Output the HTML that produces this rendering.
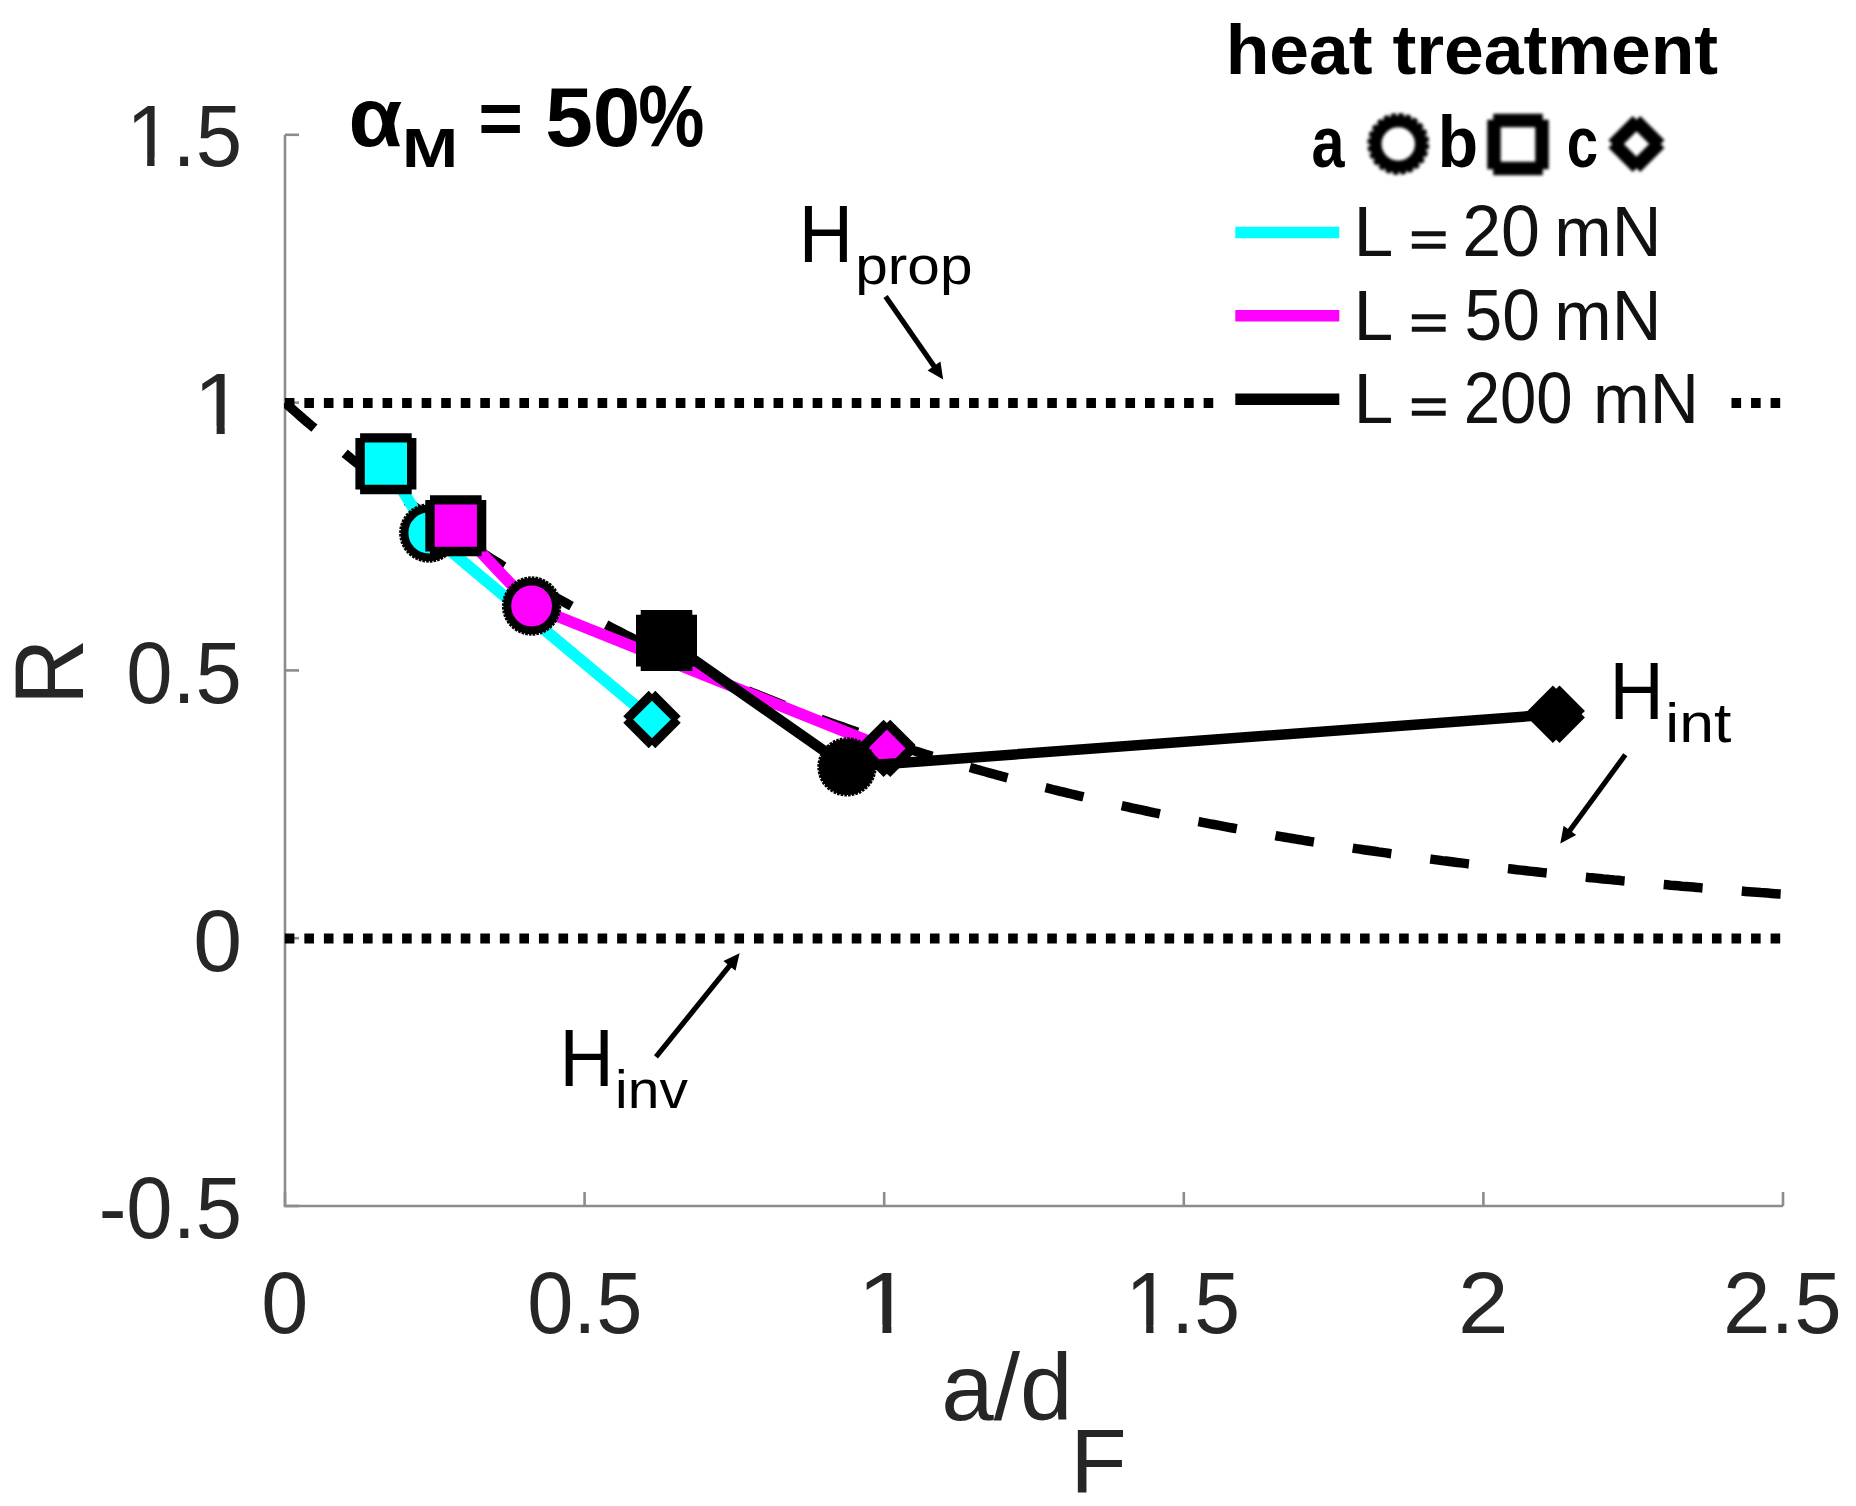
<!DOCTYPE html>
<html><head><meta charset="utf-8"><title>R vs a/dF</title>
<style>html,body{margin:0;padding:0;background:#fff;}svg{display:block;}text{font-family:"Liberation Sans",sans-serif;}</style>
</head><body>
<svg width="1856" height="1506" viewBox="0 0 1856 1506">
<defs><filter id="blur" x="-20%" y="-20%" width="140%" height="140%"><feGaussianBlur stdDeviation="1.6"/></filter>
<clipPath id="plot"><rect x="284.0" y="134.8" width="1499.0" height="1071.2"/></clipPath></defs>
<rect width="1856" height="1506" fill="#fff"/>
<g stroke="#8c8c8c" stroke-width="2.6" fill="none">
<path d="M285.0 134.8 V1206.0 H1783.0"/>
<path d="M285.0 134.8 h14"/>
<path d="M285.0 402.6 h14"/>
<path d="M285.0 670.4 h14"/>
<path d="M285.0 938.2 h14"/>
<path d="M285.0 1206.0 h14"/>
<path d="M285.0 1206.0 v-14"/>
<path d="M584.6 1206.0 v-14"/>
<path d="M884.2 1206.0 v-14"/>
<path d="M1183.8 1206.0 v-14"/>
<path d="M1483.4 1206.0 v-14"/>
<path d="M1783.0 1206.0 v-14"/>
</g>
<text transform="matrix(0.8348 0 0 0.8625 126.17 165.64)" font-size="100" fill="#262626">1.5</text>
<path transform="matrix(0.8348 0 0 0.8625 126.17 165.64)" d="M6.6 -8.9 H25.15 V1 H6.6 Z M33.98 -8.9 H51.8 V1 H33.98 Z" fill="#fff"/>
<text transform="matrix(0.9157 0 0 0.8677 193.59 434.20)" font-size="100" fill="#262626">1</text>
<path transform="matrix(0.9157 0 0 0.8677 193.59 434.20)" d="M6.6 -8.9 H25.15 V1 H6.6 Z M33.98 -8.9 H51.8 V1 H33.98 Z" fill="#fff"/>
<text transform="matrix(0.8327 0 0 0.8715 126.15 702.53)" font-size="100" fill="#262626">0.5</text>
<text transform="matrix(0.8787 0 0 0.8715 193.17 971.13)" font-size="100" fill="#262626">0</text>
<text transform="matrix(0.8326 0 0 0.8715 98.64 1238.43)" font-size="100" fill="#262626">-0.5</text>
<text transform="matrix(0.8452 0 0 0.8729 261.20 1332.83)" font-size="100" fill="#262626">0</text>
<text transform="matrix(0.8296 0 0 0.8729 527.16 1332.83)" font-size="100" fill="#262626">0.5</text>
<text transform="matrix(1.0089 0 0 0.8750 857.09 1332.80)" font-size="100" fill="#262626">1</text>
<path transform="matrix(1.0089 0 0 0.8750 857.09 1332.80)" d="M6.6 -8.9 H25.15 V1 H6.6 Z M33.98 -8.9 H51.8 V1 H33.98 Z" fill="#fff"/>
<text transform="matrix(0.8236 0 0 0.8754 1125.48 1332.82)" font-size="100" fill="#262626">1.5</text>
<path transform="matrix(0.8236 0 0 0.8754 1125.48 1332.82)" d="M6.6 -8.9 H25.15 V1 H6.6 Z M33.98 -8.9 H51.8 V1 H33.98 Z" fill="#fff"/>
<text transform="matrix(0.9101 0 0 0.8725 1457.95 1332.80)" font-size="100" fill="#262626">2</text>
<text transform="matrix(0.8529 0 0 0.8729 1723.04 1332.83)" font-size="100" fill="#262626">2.5</text>
<text transform="matrix(0 -0.9157 0.9913 0 83.00 704.91)" font-size="100" fill="#262626">R</text>
<text transform="matrix(0.9439 0 0 0.9456 941.34 1420.25)" font-size="100" fill="#262626">a/d</text>
<text transform="matrix(0.9243 0 0 0.9157 1070.22 1491.50)" font-size="100" fill="#262626">F</text>
<g stroke="#000" stroke-width="10" stroke-dasharray="9.6 9.95" fill="none">
<path d="M284.8 403.0 H1783.0"/>
<path d="M284.8 938.6 H1783.0"/>
</g>
<path d="M285.0 402.6 L288.7 405.9 L292.5 409.3 L296.2 412.5 L300.0 415.8 L303.7 419.1 L307.5 422.3 L311.2 425.5 L315.0 428.7 L318.7 431.9 L322.4 435.1 L326.2 438.2 L329.9 441.3 L333.7 444.4 L337.4 447.5 L341.2 450.5 L344.9 453.6 L348.7 456.6 L352.4 459.6 L356.2 462.6 L359.9 465.5 L363.6 468.5 L367.4 471.4 L371.1 474.3 L374.9 477.2 L378.6 480.1 L382.4 482.9 L386.1 485.8 L389.9 488.6 L393.6 491.4 L397.4 494.2 L401.1 496.9 L404.8 499.7 L408.6 502.4 L412.3 505.1 L416.1 507.8 L419.8 510.5 L423.6 513.2 L427.3 515.8 L431.1 518.5 L434.8 521.1 L438.5 523.7 L442.3 526.3 L446.0 528.8 L449.8 531.4 L453.5 533.9 L457.3 536.4 L461.0 538.9 L464.8 541.4 L468.5 543.9 L472.2 546.3 L476.0 548.8 L479.7 551.2 L483.5 553.6 L487.2 556.0 L491.0 558.4 L494.7 560.8 L498.5 563.1 L502.2 565.5 L506.0 567.8 L509.7 570.1 L513.4 572.4 L517.2 574.7 L520.9 576.9 L524.7 579.2 L528.4 581.4 L532.2 583.6 L535.9 585.8 L539.7 588.0 L543.4 590.2 L547.1 592.4 L550.9 594.5 L554.6 596.7 L558.4 598.8 L562.1 600.9 L565.9 603.0 L569.6 605.1 L573.4 607.2 L577.1 609.3 L580.9 611.3 L584.6 613.3 L588.3 615.4 L592.1 617.4 L595.8 619.4 L599.6 621.4 L603.3 623.3 L607.1 625.3 L610.8 627.2 L614.6 629.2 L618.3 631.1 L622.0 633.0 L625.8 634.9 L629.5 636.8 L633.3 638.7 L637.0 640.6 L640.8 642.4 L644.5 644.3 L648.3 646.1 L652.0 647.9 L655.8 649.7 L659.5 651.5 L663.2 653.3 L667.0 655.1 L670.7 656.8 L674.5 658.6 L678.2 660.3 L682.0 662.1 L685.7 663.8 L689.5 665.5 L693.2 667.2 L697.0 668.9 L700.7 670.6 L704.4 672.2 L708.2 673.9 L711.9 675.5 L715.7 677.2 L719.4 678.8 L723.2 680.4 L726.9 682.0 L730.7 683.6 L734.4 685.2 L738.1 686.8 L741.9 688.3 L745.6 689.9 L749.4 691.4 L753.1 693.0 L756.9 694.5 L760.6 696.0 L764.4 697.5 L768.1 699.0 L771.9 700.5 L775.6 702.0 L779.3 703.5 L783.1 704.9 L786.8 706.4 L790.6 707.8 L794.3 709.3 L798.1 710.7 L801.8 712.1 L805.6 713.5 L809.3 714.9 L813.0 716.3 L816.8 717.7 L820.5 719.1 L824.3 720.4 L828.0 721.8 L831.8 723.1 L835.5 724.5 L839.3 725.8 L843.0 727.1 L846.8 728.5 L850.5 729.8 L854.2 731.1 L858.0 732.4 L861.7 733.6 L865.5 734.9 L869.2 736.2 L873.0 737.4 L876.7 738.7 L880.5 739.9 L884.2 741.2 L887.9 742.4 L891.7 743.6 L895.4 744.8 L899.2 746.0 L902.9 747.2 L906.7 748.4 L910.4 749.6 L914.2 750.8 L917.9 751.9 L921.6 753.1 L925.4 754.3 L929.1 755.4 L932.9 756.5 L936.6 757.7 L940.4 758.8 L944.1 759.9 L947.9 761.0 L951.6 762.1 L955.4 763.2 L959.1 764.3 L962.8 765.4 L966.6 766.5 L970.3 767.5 L974.1 768.6 L977.8 769.7 L981.6 770.7 L985.3 771.8 L989.1 772.8 L992.8 773.8 L996.5 774.9 L1000.3 775.9 L1004.0 776.9 L1007.8 777.9 L1011.5 778.9 L1015.3 779.9 L1019.0 780.9 L1022.8 781.8 L1026.5 782.8 L1030.3 783.8 L1034.0 784.7 L1037.7 785.7 L1041.5 786.7 L1045.2 787.6 L1049.0 788.5 L1052.7 789.5 L1056.5 790.4 L1060.2 791.3 L1064.0 792.2 L1067.7 793.1 L1071.5 794.0 L1075.2 794.9 L1078.9 795.8 L1082.7 796.7 L1086.4 797.6 L1090.2 798.5 L1093.9 799.4 L1097.7 800.2 L1101.4 801.1 L1105.2 801.9 L1108.9 802.8 L1112.6 803.6 L1116.4 804.5 L1120.1 805.3 L1123.9 806.1 L1127.6 806.9 L1131.4 807.8 L1135.1 808.6 L1138.9 809.4 L1142.6 810.2 L1146.3 811.0 L1150.1 811.8 L1153.8 812.6 L1157.6 813.3 L1161.3 814.1 L1165.1 814.9 L1168.8 815.7 L1172.6 816.4 L1176.3 817.2 L1180.1 817.9 L1183.8 818.7 L1187.5 819.4 L1191.3 820.2 L1195.0 820.9 L1198.8 821.6 L1202.5 822.4 L1206.3 823.1 L1210.0 823.8 L1213.8 824.5 L1217.5 825.2 L1221.2 825.9 L1225.0 826.6 L1228.7 827.3 L1232.5 828.0 L1236.2 828.7 L1240.0 829.4 L1243.7 830.1 L1247.5 830.7 L1251.2 831.4 L1255.0 832.1 L1258.7 832.7 L1262.4 833.4 L1266.2 834.0 L1269.9 834.7 L1273.7 835.3 L1277.4 836.0 L1281.2 836.6 L1284.9 837.2 L1288.7 837.9 L1292.4 838.5 L1296.2 839.1 L1299.9 839.7 L1303.6 840.4 L1307.4 841.0 L1311.1 841.6 L1314.9 842.2 L1318.6 842.8 L1322.4 843.4 L1326.1 844.0 L1329.9 844.5 L1333.6 845.1 L1337.3 845.7 L1341.1 846.3 L1344.8 846.9 L1348.6 847.4 L1352.3 848.0 L1356.1 848.6 L1359.8 849.1 L1363.6 849.7 L1367.3 850.2 L1371.0 850.8 L1374.8 851.3 L1378.5 851.9 L1382.3 852.4 L1386.0 852.9 L1389.8 853.5 L1393.5 854.0 L1397.3 854.5 L1401.0 855.0 L1404.8 855.5 L1408.5 856.1 L1412.2 856.6 L1416.0 857.1 L1419.7 857.6 L1423.5 858.1 L1427.2 858.6 L1431.0 859.1 L1434.7 859.6 L1438.5 860.1 L1442.2 860.6 L1446.0 861.0 L1449.7 861.5 L1453.4 862.0 L1457.2 862.5 L1460.9 862.9 L1464.7 863.4 L1468.4 863.9 L1472.2 864.3 L1475.9 864.8 L1479.7 865.3 L1483.4 865.7 L1487.1 866.2 L1490.9 866.6 L1494.6 867.1 L1498.4 867.5 L1502.1 867.9 L1505.9 868.4 L1509.6 868.8 L1513.4 869.2 L1517.1 869.7 L1520.8 870.1 L1524.6 870.5 L1528.3 871.0 L1532.1 871.4 L1535.8 871.8 L1539.6 872.2 L1543.3 872.6 L1547.1 873.0 L1550.8 873.4 L1554.6 873.8 L1558.3 874.2 L1562.0 874.6 L1565.8 875.0 L1569.5 875.4 L1573.3 875.8 L1577.0 876.2 L1580.8 876.6 L1584.5 877.0 L1588.3 877.4 L1592.0 877.7 L1595.8 878.1 L1599.5 878.5 L1603.2 878.9 L1607.0 879.2 L1610.7 879.6 L1614.5 880.0 L1618.2 880.3 L1622.0 880.7 L1625.7 881.0 L1629.5 881.4 L1633.2 881.7 L1636.9 882.1 L1640.7 882.4 L1644.4 882.8 L1648.2 883.1 L1651.9 883.5 L1655.7 883.8 L1659.4 884.2 L1663.2 884.5 L1666.9 884.8 L1670.7 885.2 L1674.4 885.5 L1678.1 885.8 L1681.9 886.2 L1685.6 886.5 L1689.4 886.8 L1693.1 887.1 L1696.9 887.4 L1700.6 887.8 L1704.4 888.1 L1708.1 888.4 L1711.8 888.7 L1715.6 889.0 L1719.3 889.3 L1723.1 889.6 L1726.8 889.9 L1730.6 890.2 L1734.3 890.5 L1738.1 890.8 L1741.8 891.1 L1745.5 891.4 L1749.3 891.7 L1753.0 892.0 L1756.8 892.3 L1760.5 892.6 L1764.3 892.8 L1768.0 893.1 L1771.8 893.4 L1775.5 893.7 L1779.3 894.0 L1783.0 894.2" stroke="#000" stroke-width="9.5" stroke-dasharray="39 39.3" fill="none" clip-path="url(#plot)"/>
<g>
<path d="M385.9 463.7 L428.8 533.0 L652.0 719.5" stroke="#00ffff" stroke-width="11.5" fill="none" stroke-linejoin="miter"/>
<circle cx="428.8" cy="533.0" r="24.3" fill="#00ffff" stroke="#000" stroke-width="7.8"/>
<circle cx="428.8" cy="533.0" r="28.4" fill="none" stroke="#000" stroke-width="2.6" stroke-dasharray="2.6 1.117"/>
<rect x="360.1" y="437.9" width="51.6" height="51.6" fill="#00ffff"/>
<path d="M360.1 437.9 H411.7 M411.7 437.9 V489.5 M411.7 489.5 H360.1 M360.1 489.5 V437.9" stroke="#000" stroke-width="9.4" fill="none"/>
<path d="M652.0 694.1 L677.4 719.5 L652.0 744.9 L626.6 719.5 Z" fill="#00ffff"/>
<path d="M652.0 694.1 L677.4 719.5 M677.4 719.5 L652.0 744.9 M652.0 744.9 L626.6 719.5 M626.6 719.5 L652.0 694.1" stroke="#000" stroke-width="9.4" fill="none"/>
</g>
<g>
<path d="M455.8 525.7 L531.6 606.0 L886.9 748.4" stroke="#ff00ff" stroke-width="11.5" fill="none" stroke-linejoin="miter"/>
<circle cx="531.6" cy="606.0" r="24.3" fill="#ff00ff" stroke="#000" stroke-width="7.8"/>
<circle cx="531.6" cy="606.0" r="28.4" fill="none" stroke="#000" stroke-width="2.6" stroke-dasharray="2.6 1.117"/>
<rect x="430.0" y="499.9" width="51.6" height="51.6" fill="#ff00ff"/>
<path d="M430.0 499.9 H481.6 M481.6 499.9 V551.5 M481.6 551.5 H430.0 M430.0 551.5 V499.9" stroke="#000" stroke-width="9.4" fill="none"/>
<path d="M886.9 723.0 L912.3 748.4 L886.9 773.8 L861.5 748.4 Z" fill="#ff00ff"/>
<path d="M886.9 723.0 L912.3 748.4 M912.3 748.4 L886.9 773.8 M886.9 773.8 L861.5 748.4 M861.5 748.4 L886.9 723.0" stroke="#000" stroke-width="9.4" fill="none"/>
</g>
<g>
<path d="M666.5 640.6 L847.0 766.9 L1556.2 714.2" stroke="#000000" stroke-width="10.5" fill="none" stroke-linejoin="miter"/>
<circle cx="847.0" cy="766.9" r="24.3" fill="#000000" stroke="#000" stroke-width="7.8"/>
<circle cx="847.0" cy="766.9" r="28.4" fill="none" stroke="#000" stroke-width="2.6" stroke-dasharray="2.6 1.117"/>
<rect x="640.7" y="614.8" width="51.6" height="51.6" fill="#000000"/>
<path d="M640.7 614.8 H692.3 M692.3 614.8 V666.4 M692.3 666.4 H640.7 M640.7 666.4 V614.8" stroke="#000" stroke-width="9.4" fill="none"/>
<path d="M1556.2 688.8 L1581.6 714.2 L1556.2 739.6 L1530.8 714.2 Z" fill="#000000"/>
<path d="M1556.2 688.8 L1581.6 714.2 M1581.6 714.2 L1556.2 739.6 M1556.2 739.6 L1530.8 714.2 M1530.8 714.2 L1556.2 688.8" stroke="#000" stroke-width="9.4" fill="none"/>
</g>
<rect x="1219" y="190" width="509" height="250" fill="#fff"/>
<path d="M1235.3 232.4 H1339.3" stroke="#00ffff" stroke-width="11.5"/>
<path d="M1235.3 315.8 H1339.3" stroke="#ff00ff" stroke-width="11.5"/>
<path d="M1235.3 399.2 H1339.3" stroke="#000" stroke-width="11.5"/>
<text transform="matrix(0.7166 0 0 0.7049 1353.62 256.00)" font-size="100" fill="#111">L</text>
<text transform="matrix(0.6605 0 0 0.4969 1409.56 255.55)" font-size="100" fill="#111" stroke="#111" stroke-width="1.6" vector-effect="non-scaling-stroke">=</text>
<text transform="matrix(0.6999 0 0 0.7175 1462.20 256.28)" font-size="100" fill="#111">20</text>
<text transform="matrix(0.6889 0 0 0.7049 1554.35 256.00)" font-size="100" fill="#111">mN</text>
<text transform="matrix(0.7166 0 0 0.7049 1353.62 339.50)" font-size="100" fill="#111">L</text>
<text transform="matrix(0.6605 0 0 0.4969 1409.56 339.05)" font-size="100" fill="#111" stroke="#111" stroke-width="1.6" vector-effect="non-scaling-stroke">=</text>
<text transform="matrix(0.6776 0 0 0.7175 1464.59 339.78)" font-size="100" fill="#111">50</text>
<text transform="matrix(0.6889 0 0 0.7049 1554.35 339.50)" font-size="100" fill="#111">mN</text>
<text transform="matrix(0.7166 0 0 0.7049 1353.62 423.20)" font-size="100" fill="#111">L</text>
<text transform="matrix(0.6605 0 0 0.4969 1409.56 422.75)" font-size="100" fill="#111" stroke="#111" stroke-width="1.6" vector-effect="non-scaling-stroke">=</text>
<text transform="matrix(0.6529 0 0 0.7175 1463.64 423.48)" font-size="100" fill="#111">200</text>
<text transform="matrix(0.6811 0 0 0.7049 1593.00 423.20)" font-size="100" fill="#111">mN</text>
<text transform="matrix(0.7146 0 0 0.7048 1225.70 73.70)" font-size="100" fill="#000" font-weight="bold">heat treatment</text>
<text transform="matrix(0.5936 0 0 0.7190 1311.58 166.68)" font-size="100" fill="#000" font-weight="bold">a</text>
<text transform="matrix(0.6607 0 0 0.7211 1437.64 166.68)" font-size="100" fill="#000" font-weight="bold">b</text>
<text transform="matrix(0.5635 0 0 0.7190 1566.80 166.68)" font-size="100" fill="#000" font-weight="bold">c</text>
<g filter="url(#blur)" fill="none" stroke="#000">
<circle cx="1398.3" cy="144" r="22.6" stroke-width="11.8"/>
<circle cx="1398.3" cy="144" r="29.2" stroke-width="3.4" stroke-dasharray="5.2 2.444"/>
<path d="M1493.2 120.5 H1542.8 M1542.0 119.7 V169.3 M1542.8 168.5 H1493.2 M1494.0 169.3 V119.7" stroke-width="13.5"/>
<path d="M1635.5 120.8 L1659.7 145.0 M1659.7 143.0 L1635.5 167.2 M1637.5 167.2 L1613.3 143.0 M1613.3 145.0 L1637.5 120.8" stroke-width="13.6"/>
</g>
<text transform="matrix(0.8761 0 0 0.8412 348.48 145.96)" font-size="100" fill="#000" font-weight="bold">α</text>
<text transform="matrix(0.6738 0 0 0.5509 401.99 167.30)" font-size="100" fill="#000" font-weight="bold">M</text>
<text transform="matrix(0.7669 0 0 0.7328 478.16 143.91)" font-size="100" fill="#000" font-weight="bold">=</text>
<text transform="matrix(0.8567 0 0 0.8362 545.14 145.96)" font-size="100" fill="#000" font-weight="bold">50</text>
<text transform="matrix(0.7446 0 0 0.8665 638.14 146.31)" font-size="100" fill="#000" font-weight="bold">%</text>
<text transform="matrix(0.7513 0 0 0.8212 798.84 262.40)" font-size="100" fill="#000">H</text>
<text transform="matrix(0.5858 0 0 0.5416 855.25 284.34)" font-size="100" fill="#000">prop</text>
<path d="M885.6 296.4 L935.1 367.7" stroke="#000" stroke-width="5.2"/>
<path d="M943.2 379.4 L927.6 370.5 L940.4 361.6 Z" fill="#000"/>
<text transform="matrix(0.7513 0 0 0.8227 1609.44 719.20)" font-size="100" fill="#000">H</text>
<text transform="matrix(0.6253 0 0 0.5593 1665.31 741.85)" font-size="100" fill="#000">int</text>
<path d="M1625.3 754.8 L1568.7 832.0" stroke="#000" stroke-width="5.2"/>
<path d="M1560.3 843.5 L1563.6 825.8 L1576.2 835.0 Z" fill="#000"/>
<text transform="matrix(0.7513 0 0 0.8227 559.44 1086.00)" font-size="100" fill="#000">H</text>
<text transform="matrix(0.5692 0 0 0.5352 615.09 1107.80)" font-size="100" fill="#000">inv</text>
<path d="M656.0 1056.9 L730.7 964.4" stroke="#000" stroke-width="5.2"/>
<path d="M739.6 953.3 L735.5 970.8 L723.4 961.0 Z" fill="#000"/>
</svg></body></html>
